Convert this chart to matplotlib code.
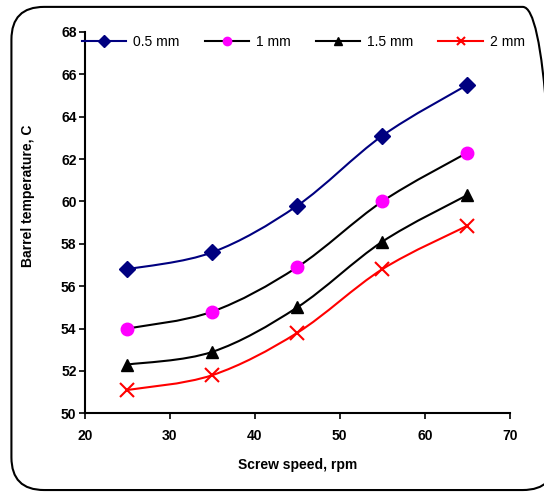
import matplotlib
matplotlib.use("Agg")
import matplotlib.pyplot as plt
from matplotlib.path import Path
from matplotlib.patches import PathPatch, FancyBboxPatch

plt.rcParams['font.family'] = ['Liberation Sans', 'DejaVu Sans']

speed = [25, 35, 45, 55, 65]
t_05 = [56.8, 57.6, 59.8, 63.1, 65.5]
t_1 = [54.0, 54.8, 56.9, 60.0, 62.3]
t_15 = [52.3, 52.9, 55.0, 58.1, 60.3]
t_2 = [51.1, 51.8, 53.8, 56.8, 58.85]
labels = ["0.5 mm", "1 mm", "1.5 mm", "2 mm"]


def smooth_path(xs, ys):
    # bezier segments like Excel "smoothed line"
    pts = list(zip(xs, ys))
    verts = [pts[0]]
    codes = [Path.MOVETO]
    n = len(pts)
    for i in range(n - 1):
        p0 = pts[max(i - 1, 0)]
        p1 = pts[i]
        p2 = pts[i + 1]
        p3 = pts[min(i + 2, n - 1)]
        c1 = (p1[0] + (p2[0] - p0[0]) / 6, p1[1] + (p2[1] - p0[1]) / 6)
        c2 = (p2[0] - (p3[0] - p1[0]) / 6, p2[1] - (p3[1] - p1[1]) / 6)
        verts += [c1, c2, p2]
        codes += [Path.CURVE4] * 3
    return Path(verts, codes)


fig = plt.figure(figsize=(5.44, 4.92), dpi=100)
ax = fig.add_axes([0.156, 0.16, 0.781, 0.775])

series = [
    (t_05, '#000080', dict(marker='D', markersize=8.5, mfc='#000080', mec='#000080')),
    (t_1, 'black', dict(marker='o', markersize=9, mfc='#FF00FF', mec='#FF00FF')),
    (t_15, 'black', dict(marker='^', markersize=9, mfc='black', mec='black')),
    (t_2, 'red', dict(marker='x', markersize=9.5, mec='red', mew=1.5)),
]

handles = []
for (vals, col, mk), lab in zip(series, labels):
    ax.add_patch(PathPatch(smooth_path(speed, vals), fill=False, edgecolor=col, lw=1.5))
    ax.plot(speed, vals, ls='none', **mk)
    h, = ax.plot([], [], color=col, lw=1.5, label=lab,
                 **{k: v for k, v in mk.items() if k != 'markersize'}, markersize=6)
    handles.append(h)

ax.set_xlim(20, 70)
ax.set_ylim(50, 68)
ax.set_xticks(range(20, 71, 10))
ax.set_yticks(range(50, 69, 2))
ax.spines['top'].set_visible(False)
ax.spines['right'].set_visible(False)
ax.spines['left'].set_linewidth(1.5)
ax.spines['bottom'].set_linewidth(1.5)
ax.tick_params(direction='out', length=4, width=1.2, labelsize=10)
ax.tick_params(axis='y', pad=2)
ax.tick_params(axis='x', pad=7)
for lbl in ax.get_xticklabels() + ax.get_yticklabels():
    lbl.set_fontweight('bold')

ax.set_xlabel("Screw speed, rpm", fontsize=10, fontweight='bold', labelpad=11)
ax.set_ylabel("Barrel temperature, C", fontsize=10, fontweight='bold')
ax.yaxis.set_label_coords(-0.117, 0.57)

ax.legend(handles=handles, ncol=4, frameon=False, loc='upper left',
          bbox_to_anchor=(-0.02, 1.006), fontsize=10, handlelength=3.2,
          columnspacing=1.8, handletextpad=0.5, borderaxespad=0)

border = FancyBboxPatch((0.021, 0.004), 1.0, 0.982, boxstyle="round,pad=0,rounding_size=0.06",
                        transform=fig.transFigure, fill=False, edgecolor='black', lw=1.5,
                        mutation_aspect=544 / 492)
fig.patches.append(border)

fig.savefig("out.png", dpi=100)
